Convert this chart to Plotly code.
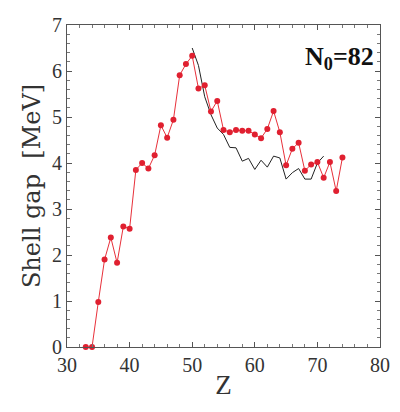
import plotly.graph_objects as go

# Red series (with markers)
z_red = [33, 34, 35, 36, 37, 38, 39, 40, 41, 42, 43, 44, 45, 46, 47, 48, 49, 50,
         51, 52, 53, 54, 55, 56, 57, 58, 59, 60, 61, 62, 63, 64, 65, 66, 67, 68,
         69, 70, 71, 72, 73, 74]
gap_red = [0.0, 0.0, 0.98, 1.9, 2.38, 1.83, 2.62, 2.57, 3.85, 4.0, 3.88, 4.17,
           4.82, 4.55, 4.94, 5.91, 6.15, 6.33, 5.62, 5.69, 5.12, 5.35, 4.72,
           4.67, 4.72, 4.70, 4.70, 4.62, 4.54, 4.74, 5.13, 4.67, 3.95, 4.31,
           4.44, 3.83, 3.97, 4.02, 3.68, 4.02, 3.39, 4.12]

# Black series (line only)
z_black = [50, 51, 52, 53, 54, 55, 56, 57, 58, 59, 60, 61, 62, 63, 64, 65, 66,
           67, 68, 69, 70, 71]
gap_black = [6.5, 6.12, 5.44, 5.05, 4.76, 4.62, 4.34, 4.33, 4.04, 4.1, 3.86,
             4.06, 3.91, 4.15, 4.11, 3.65, 3.79, 3.88, 3.65, 3.65, 4.0, 4.15]

x_ticks = [30, 40, 50, 60, 70, 80]
y_ticks = [0, 1, 2, 3, 4, 5, 6, 7]

fig = go.Figure()
fig.add_trace(go.Scatter(x=z_black, y=gap_black, mode="lines",
                         line=dict(color="#222222", width=1), showlegend=False))
fig.add_trace(go.Scatter(x=z_red, y=gap_red, mode="lines+markers",
                         line=dict(color="#e8303a", width=1),
                         marker=dict(color="#e02030", size=6),
                         cliponaxis=False, showlegend=False))

font = "Liberation Serif, Times New Roman, serif"
axis_common = dict(showline=True, linecolor="#555555", linewidth=1, mirror="ticks",
                   ticks="inside", ticklen=5, tickcolor="#555555",
                   showgrid=False, zeroline=False, automargin=False,
                   tickfont=dict(family=font, size=20, color="#333333"))
fig.update_xaxes(range=[30, 80], tickvals=x_ticks,
                 minor=dict(dtick=2, ticks="inside", ticklen=3, tickcolor="#777777"),
                 title=dict(text="Z", font=dict(family=font, size=27, color="#333333"),
                            standoff=0),
                 **axis_common)
fig.update_yaxes(range=[0, 7], tickvals=y_ticks,
                 minor=dict(dtick=0.2, ticks="inside", ticklen=3, tickcolor="#777777"),
                 title=dict(text="Shell gap  [MeV]",
                            font=dict(family="DejaVu Serif, serif", size=24,
                                      color="#333333"),
                            standoff=4),
                 **axis_common)

fig.add_annotation(x=0.87, y=0.898, xref="paper", yref="paper",
                   xanchor="center", yanchor="middle",
                   text="<b>N<sub>0</sub>=82</b>", showarrow=False,
                   font=dict(family=font, size=26, color="#111111"))

# the page body adds an 8px offset, so margins are compensated
fig.update_layout(width=400, height=412, plot_bgcolor="white", paper_bgcolor="white",
                  margin=dict(l=59, r=28, t=17, b=73))
fig.write_html("out.html")
